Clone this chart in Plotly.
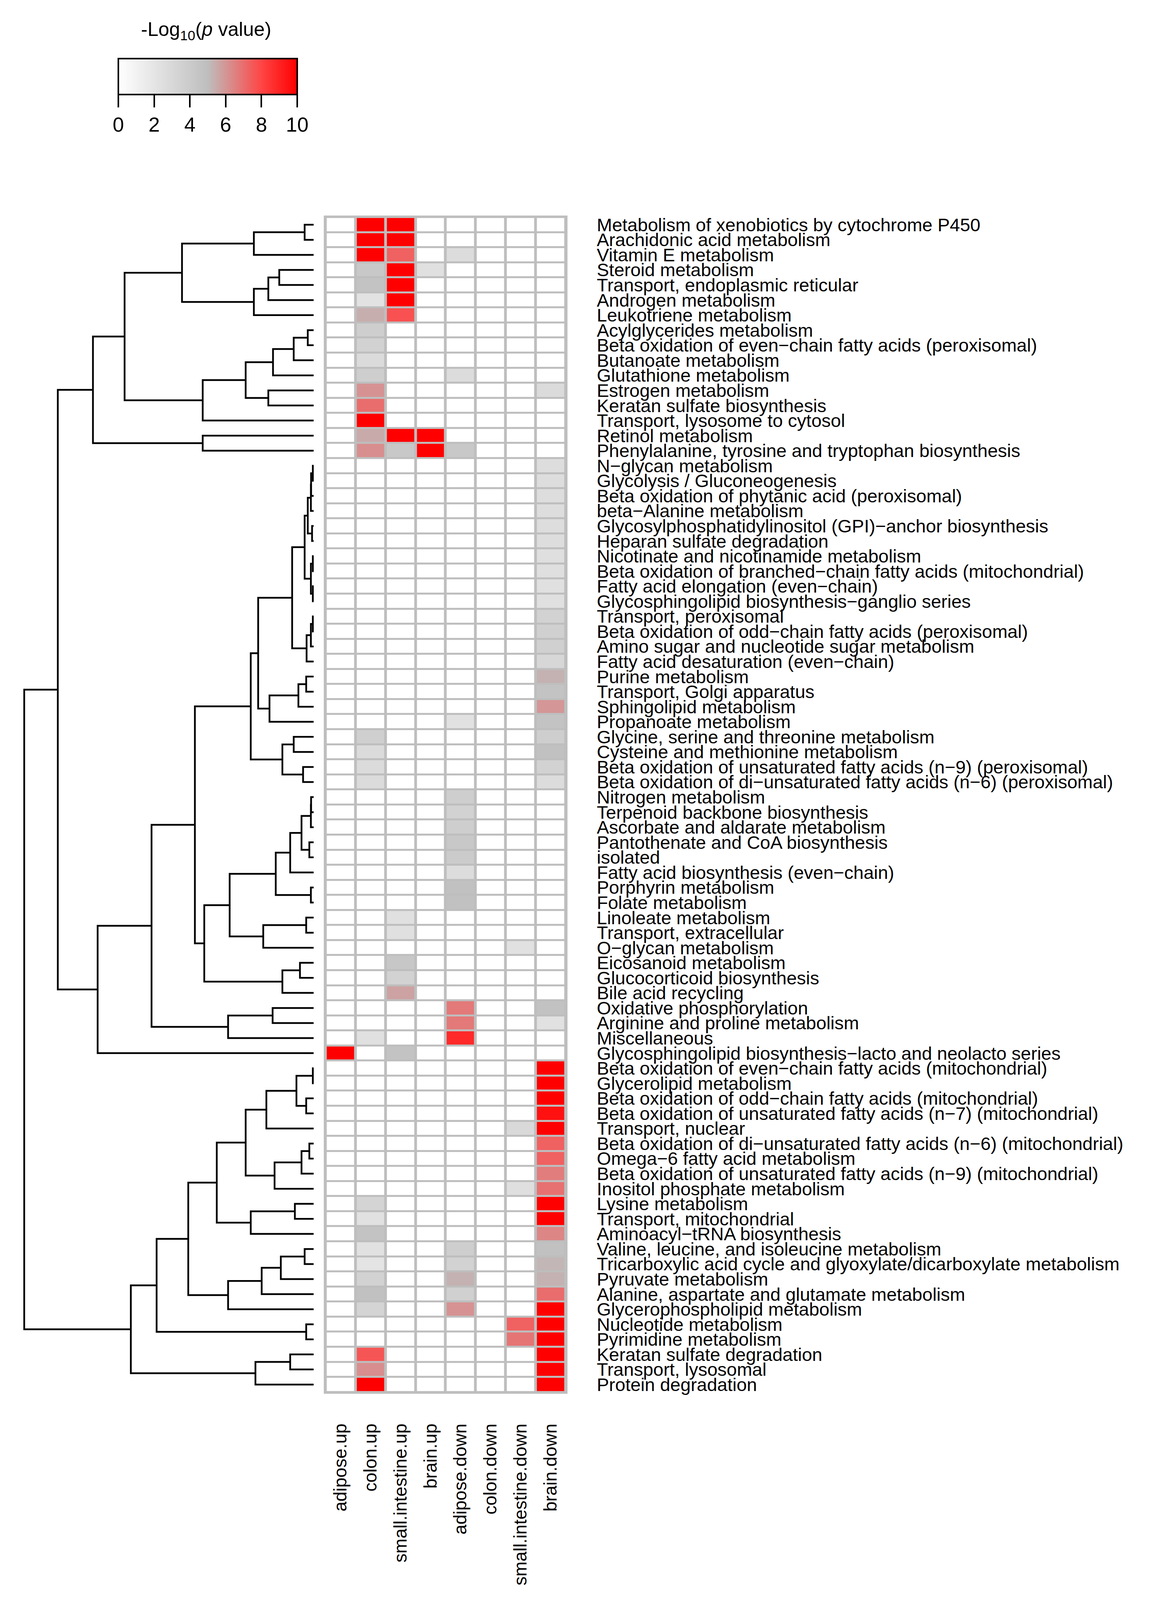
import plotly.graph_objects as go

W = 3011
H_REF = 4451          # height of the reference picture
HV = 4090             # visible height of the rendered page
SY = HV / H_REF       # vertical scale from reference pixels to page pixels

pathways = [
    "Metabolism of xenobiotics by cytochrome P450",
    "Arachidonic acid metabolism",
    "Vitamin E metabolism",
    "Steroid metabolism",
    "Transport, endoplasmic reticular",
    "Androgen metabolism",
    "Leukotriene metabolism",
    "Acylglycerides metabolism",
    "Beta oxidation of even\u2212chain fatty acids (peroxisomal)",
    "Butanoate metabolism",
    "Glutathione metabolism",
    "Estrogen metabolism",
    "Keratan sulfate biosynthesis",
    "Transport, lysosome to cytosol",
    "Retinol metabolism",
    "Phenylalanine, tyrosine and tryptophan biosynthesis",
    "N\u2212glycan metabolism",
    "Glycolysis / Gluconeogenesis",
    "Beta oxidation of phytanic acid (peroxisomal)",
    "beta\u2212Alanine metabolism",
    "Glycosylphosphatidylinositol (GPI)\u2212anchor biosynthesis",
    "Heparan sulfate degradation",
    "Nicotinate and nicotinamide metabolism",
    "Beta oxidation of branched\u2212chain fatty acids (mitochondrial)",
    "Fatty acid elongation (even\u2212chain)",
    "Glycosphingolipid biosynthesis\u2212ganglio series",
    "Transport, peroxisomal",
    "Beta oxidation of odd\u2212chain fatty acids (peroxisomal)",
    "Amino sugar and nucleotide sugar metabolism",
    "Fatty acid desaturation (even\u2212chain)",
    "Purine metabolism",
    "Transport, Golgi apparatus",
    "Sphingolipid metabolism",
    "Propanoate metabolism",
    "Glycine, serine and threonine metabolism",
    "Cysteine and methionine metabolism",
    "Beta oxidation of unsaturated fatty acids (n\u22129) (peroxisomal)",
    "Beta oxidation of di\u2212unsaturated fatty acids (n\u22126) (peroxisomal)",
    "Nitrogen metabolism",
    "Terpenoid backbone biosynthesis",
    "Ascorbate and aldarate metabolism",
    "Pantothenate and CoA biosynthesis",
    "isolated",
    "Fatty acid biosynthesis (even\u2212chain)",
    "Porphyrin metabolism",
    "Folate metabolism",
    "Linoleate metabolism",
    "Transport, extracellular",
    "O\u2212glycan metabolism",
    "Eicosanoid metabolism",
    "Glucocorticoid biosynthesis",
    "Bile acid recycling",
    "Oxidative phosphorylation",
    "Arginine and proline metabolism",
    "Miscellaneous",
    "Glycosphingolipid biosynthesis\u2212lacto and neolacto series",
    "Beta oxidation of even\u2212chain fatty acids (mitochondrial)",
    "Glycerolipid metabolism",
    "Beta oxidation of odd\u2212chain fatty acids (mitochondrial)",
    "Beta oxidation of unsaturated fatty acids (n\u22127) (mitochondrial)",
    "Transport, nuclear",
    "Beta oxidation of di\u2212unsaturated fatty acids (n\u22126) (mitochondrial)",
    "Omega\u22126 fatty acid metabolism",
    "Beta oxidation of unsaturated fatty acids (n\u22129) (mitochondrial)",
    "Inositol phosphate metabolism",
    "Lysine metabolism",
    "Transport, mitochondrial",
    "Aminoacyl\u2212tRNA biosynthesis",
    "Valine, leucine, and isoleucine metabolism",
    "Tricarboxylic acid cycle and glyoxylate/dicarboxylate metabolism",
    "Pyruvate metabolism",
    "Alanine, aspartate and glutamate metabolism",
    "Glycerophospholipid metabolism",
    "Nucleotide metabolism",
    "Pyrimidine metabolism",
    "Keratan sulfate degradation",
    "Transport, lysosomal",
    "Protein degradation",
]

samples = ["adipose.up", "colon.up", "small.intestine.up", "brain.up",
           "adipose.down", "colon.down", "small.intestine.down", "brain.down"]

# -log10(p) values per sample column, one entry per pathway row (top to bottom)
adipose_up = [
    0, 0, 0, 0, 0, 0, 0, 0, 0, 0,
    0, 0, 0, 0, 0, 0, 0, 0, 0, 0,
    0, 0, 0, 0, 0, 0, 0, 0, 0, 0,
    0, 0, 0, 0, 0, 0, 0, 0, 0, 0,
    0, 0, 0, 0, 0, 0, 0, 0, 0, 0,
    0, 0, 0, 0, 0, 10, 0, 0, 0, 0,
    0, 0, 0, 0, 0, 0, 0, 0, 0, 0,
    0, 0, 0, 0, 0, 0, 0, 0,
]
colon_up = [
    10, 10, 10, 4.2, 4.6, 2.2, 5.4, 3.8, 3.5, 2.8,
    3.8, 6.1, 7.0, 10, 5.5, 6.2, 0, 0, 0, 0,
    0, 0, 0, 0, 0, 0, 0, 0, 0, 0,
    0, 0, 0, 0, 3.7, 2.8, 2.8, 2.8, 0, 0,
    0, 0, 0, 0, 0, 0, 0, 0, 0, 0,
    0, 0, 0, 0, 2.4, 0, 0, 0, 0, 0,
    0, 0, 0, 0, 0, 3.3, 2.3, 4.6, 2.3, 2.1,
    3.5, 4.8, 3.3, 0, 0, 7.6, 6.2, 10,
]
small_intestine_up = [
    10, 10, 7.3, 10, 10, 10, 7.7, 0, 0, 0,
    0, 0, 0, 0, 10, 4.2, 0, 0, 0, 0,
    0, 0, 0, 0, 0, 0, 0, 0, 0, 0,
    0, 0, 0, 0, 0, 0, 0, 0, 0, 0,
    0, 0, 0, 0, 0, 0, 2.4, 2.4, 0, 4.3,
    3.5, 5.7, 0, 0, 0, 4.6, 0, 0, 0, 0,
    0, 0, 0, 0, 0, 0, 0, 0, 0, 0,
    0, 0, 0, 0, 0, 0, 0, 0,
]
brain_up = [
    0, 0, 0, 2.4, 0, 0, 0, 0, 0, 0,
    0, 0, 0, 0, 10, 10, 0, 0, 0, 0,
    0, 0, 0, 0, 0, 0, 0, 0, 0, 0,
    0, 0, 0, 0, 0, 0, 0, 0, 0, 0,
    0, 0, 0, 0, 0, 0, 0, 0, 0, 0,
    0, 0, 0, 0, 0, 0, 0, 0, 0, 0,
    0, 0, 0, 0, 0, 0, 0, 0, 0, 0,
    0, 0, 0, 0, 0, 0, 0, 0,
]
adipose_down = [
    0, 0, 2.7, 0, 0, 0, 0, 0, 0, 0,
    2.7, 0, 0, 0, 0, 4.2, 0, 0, 0, 0,
    0, 0, 0, 0, 0, 0, 0, 0, 0, 0,
    0, 0, 0, 2.3, 0, 0, 0, 0, 3.8, 3.5,
    3.8, 4.2, 4.0, 2.7, 4.8, 4.8, 0, 0, 0, 0,
    0, 0, 6.7, 6.7, 8.8, 0, 0, 0, 0, 0,
    0, 0, 0, 0, 0, 0, 0, 0, 3.8, 3.5,
    5.3, 3.6, 6.1, 0, 0, 0, 0, 0,
]
colon_down = [
    0, 0, 0, 0, 0, 0, 0, 0, 0, 0,
    0, 0, 0, 0, 0, 0, 0, 0, 0, 0,
    0, 0, 0, 0, 0, 0, 0, 0, 0, 0,
    0, 0, 0, 0, 0, 0, 0, 0, 0, 0,
    0, 0, 0, 0, 0, 0, 0, 0, 0, 0,
    0, 0, 0, 0, 0, 0, 0, 0, 0, 0,
    0, 0, 0, 0, 0, 0, 0, 0, 0, 0,
    0, 0, 0, 0, 0, 0, 0, 0,
]
small_intestine_down = [
    0, 0, 0, 0, 0, 0, 0, 0, 0, 0,
    0, 0, 0, 0, 0, 0, 0, 0, 0, 0,
    0, 0, 0, 0, 0, 0, 0, 0, 0, 0,
    0, 0, 0, 0, 0, 0, 0, 0, 0, 0,
    0, 0, 0, 0, 0, 0, 0, 0, 2.3, 0,
    0, 0, 0, 0, 0, 0, 0, 0, 0, 0,
    2.9, 0, 0, 0, 2.5, 0, 0, 0, 0, 0,
    0, 0, 0, 7.3, 6.8, 0, 0, 0,
]
brain_down = [
    0, 0, 0, 0, 0, 0, 0, 0, 0, 0,
    0, 2.8, 0, 0, 0, 0, 2.6, 2.6, 2.6, 2.6,
    2.6, 2.6, 2.5, 2.5, 2.4, 2.4, 3.5, 3.6, 3.6, 3.1,
    5.3, 4.6, 6.0, 4.6, 3.8, 4.8, 3.5, 2.7, 0, 0,
    0, 0, 0, 0, 0, 0, 0, 0, 0, 0,
    0, 0, 4.7, 2.3, 0, 0, 10, 10, 10, 9.5,
    10, 7.3, 7.3, 6.6, 6.9, 10, 10, 6.4, 4.8, 5.2,
    5.3, 7.0, 10, 10, 10, 10, 10, 10,
]

columns = [adipose_up, colon_up, small_intestine_up, brain_up,
           adipose_down, colon_down, small_intestine_down, brain_down]

colorbar_ticks = [0, 2, 4, 6, 8, 10]

# Row dendrogram: (merge height, left, right); leaves are row indices
top_a = (337, (153, (23, 0, 1), 2), (153, (116, (88, 3, 4), 5), 6))
top_b = (284, (174, (104, (51, (15, 7, 8), 9), 10), (116, 11, 12)), 13)
top_cluster = (565, (484, top_a, top_b), (284, 14, 15))

mid_a = (55,
         (23,
          (15, (7, (6.5, (2, 16, 17), 18), 19), (4, 20, 21)),
          (7, (2, 22, 23), (2, 24, 25))),
         (18, (7, (2, 26, 27), 28), 29))
mid_b = (113, (39, (19, 30, 31), 32), 33)
mid_c = (80, (51, 34, 35), (27, 36, 37))
mid_d = (280,
         (215,
          (97, (60, (31, (7, (6.5, 38, 39), 40), (11, 41, 42)), 43), (7, 44, 45)),
          (129, (19, 46, 47), 48)),
         (80, (35, 49, 50), 51))
mid_cluster = (553, (415, (304, (161, (142, mid_a, mid_b), mid_c), mid_d),
                     (219, (105, 52, 53), 54)), 55)

bot_a = (174, (121, (44, (2, 56, 57), (19, 58, 59)), 60),
         (100, (31, (11, 61, 62), 63), 64))
bot_b = (161, (48, 65, 66), 67)
bot_c = (219, (133, (84, (23, 68, 69), 70), 71), 72)
bot_cluster = (468, (402, (321, (248, bot_a, bot_b), bot_c), (19, 73, 74)),
               (149, (60, 75, 76), 77))

tree = (741, (655, top_cluster, mid_cluster), bot_cluster)

# ---------------------------------------------------------------------------
n_rows = len(pathways)
z = [[col[i] for col in columns] for i in range(n_rows)]

dx, dy = [], []


def walk(node):
    if isinstance(node, int):
        return float(node), 0.0
    h, left, right = node
    pl, hl = walk(left)
    pr, hr = walk(right)
    dx.extend([hl, h, h, hr, None])
    dy.extend([pl, pl, pr, pr, None])
    return (pl + pr) / 2.0, h


walk(tree)


def py(v):
    """reference pixel (from top) -> paper y"""
    return 1 - v * SY / HV


FONT = "Liberation Sans, Arial, sans-serif"
GRID = "#BEBEBE"

# layout in reference pixels
hm_left, hm_right = 821, 1445
hm_top, hm_bottom = 589, 3877
bx, by = 0.06, 0.12  # border padding in data units
x_rng = [-0.5 - bx, len(samples) - 0.5 + bx]
y_rng = [n_rows - 0.5 + by, -0.5 - by]
ydom = [py(hm_bottom), py(hm_top)]

colorscale = [[0.0, "#FFFFFF"], [0.5, "#BEBEBE"], [0.8, "#FF4545"], [1.0, "#FF0000"]]

fig = go.Figure()
fig.add_trace(go.Heatmap(
    z=z, x=list(range(len(samples))), y=list(range(n_rows)),
    zmin=0, zmax=10, colorscale=colorscale,
    xgap=7, ygap=5, hoverongaps=False,
    xaxis="x", yaxis="y",
    colorbar=dict(
        orientation="h", x=524 / W, xanchor="center", y=py(151), yanchor="top",
        len=458 / W, lenmode="fraction", thickness=round(100 * SY),
        thicknessmode="pixels",
        outlinewidth=4, outlinecolor="black",
        ticks="outside", ticklen=round(34 * SY), tickwidth=4, tickcolor="black",
        tickvals=colorbar_ticks, ticktext=[str(t) for t in colorbar_ticks],
        tickfont=dict(family=FONT, size=52, color="black"),
        xpad=0, ypad=0,
    ),
))

fig.add_trace(go.Scatter(
    x=dx, y=dy, mode="lines", line=dict(color="black", width=4.5),
    xaxis="x2", yaxis="y2", hoverinfo="skip", showlegend=False,
))

fig.add_shape(type="rect", xref="x", yref="y",
              x0=x_rng[0], x1=x_rng[1], y0=y_rng[1], y1=y_rng[0],
              fillcolor=GRID, line=dict(width=0), layer="below")

fig.add_annotation(
    text="-Log<sub>10</sub>(<i>p</i> value)", xref="paper", yref="paper",
    x=520 / W, y=py(74), xanchor="center", yanchor="middle",
    showarrow=False, font=dict(family=FONT, size=50, color="black"),
)

fig.update_layout(
    width=W, height=HV, margin=dict(l=0, r=0, t=0, b=0),
    paper_bgcolor="white", plot_bgcolor="white",
    font=dict(family=FONT, color="black"),
    showlegend=False,
    xaxis=dict(domain=[hm_left / W, hm_right / W], range=x_rng, anchor="y",
               tickvals=list(range(len(samples))), ticktext=samples,
               tickangle=-90, ticks="", ticklabelstandoff=round(72 * SY),
               tickfont=dict(family=FONT, size=46, color="black"),
               showgrid=False, zeroline=False, showline=False),
    yaxis=dict(domain=ydom, range=y_rng, anchor="x", side="right",
               tickvals=list(range(n_rows)), ticktext=pathways,
               ticks="", ticklabelstandoff=74,
               tickfont=dict(family=FONT, size=47, color="black"),
               showgrid=False, zeroline=False, showline=False),
    xaxis2=dict(domain=[40 / W, 809 / W], range=[755, -14], anchor="y2",
                showticklabels=False, ticks="", showgrid=False,
                zeroline=False, showline=False),
    yaxis2=dict(domain=ydom, range=y_rng, anchor="x2",
                showticklabels=False, ticks="", showgrid=False,
                zeroline=False, showline=False),
)

fig.write_html("out.html")
